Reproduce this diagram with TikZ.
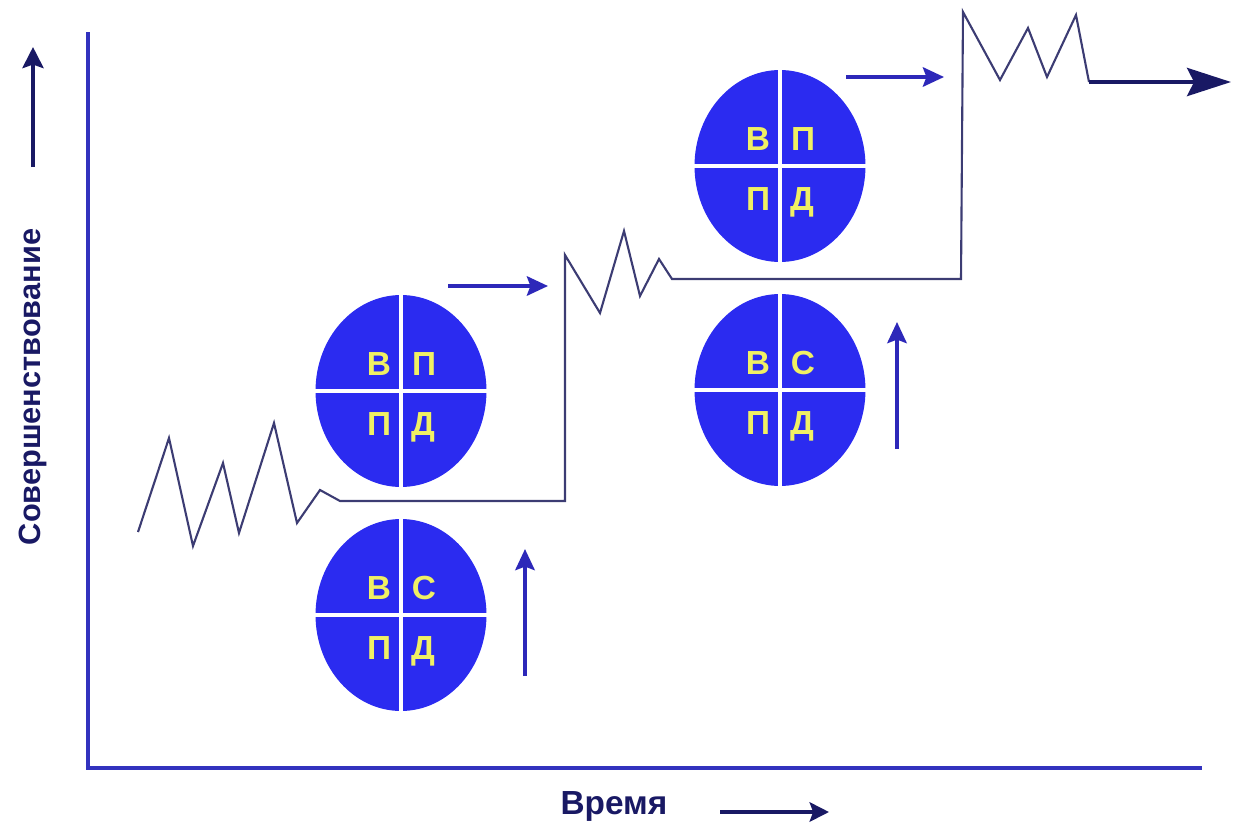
\documentclass[tikz,border=0pt]{standalone}
\usepackage{fontspec}
\setmainfont{Liberation Sans}
\usetikzlibrary{calc, positioning}
\usetikzlibrary{arrows.meta}
\usetikzlibrary{shapes.geometric}

\definecolor{achsblau}{RGB}{50,50,190}
\definecolor{zickblau}{RGB}{60,60,115}
\definecolor{pfeilblau}{RGB}{45,40,185}
\definecolor{dunkelblau}{RGB}{25,25,100}
\definecolor{kreisblau}{RGB}{43,43,240}
\definecolor{gelb}{RGB}{240,240,100}

\tikzset{
  achse/.style={line width=2pt, achsblau},
  zacke/.style={line width=1.2pt, zickblau, line join=miter},
  pfeil/.style={line width=2.2pt, pfeilblau, -{Stealth[length=12pt, width=11pt, inset=2pt]}},
  krug/.style={ellipse, fill=kreisblau, draw=none, inner sep=0pt,
    minimum width=3.42cm, minimum height=3.84cm},
  kreuz/.style={white, line width=2.8pt},
  bukva/.style={gelb, font=\fontsize{19}{19}\selectfont\bfseries, anchor=base, inner sep=0pt},
  beschr/.style={dunkelblau, font=\fontsize{17.5}{17.5}\selectfont\bfseries, inner sep=0pt}
}

\begin{document}
\begin{tikzpicture}[x=0.02cm, y=-0.02cm]
\useasboundingbox (0,0) rectangle (1244,832);

% axes
\coordinate (O) at (88,768);
\coordinate (Yend) at (88,32);
\coordinate (Xend) at (1202,768);
\draw[achse] (Yend) -- (O) -- (Xend);

% axis labels
\node[beschr, rotate=90] (ylabel) at (33,387) {Совершенствование};
\coordinate (ya1) at (33,167);
\coordinate (ya2) at (33,47);
\draw[line width=2.2pt, dunkelblau, -{Stealth[length=12pt, width=12pt, inset=2pt]}] (ya1) -- (ya2);

\node[beschr, font=\fontsize{19}{19}\selectfont\bfseries] (xlabel) at (614,806) {Время};
\coordinate (xa1) at (720,812);
\coordinate (xa2) at (829,812);
\draw[line width=2.2pt, dunkelblau, -{Stealth[length=11pt, width=11pt, inset=2pt]}] (xa1) -- (xa2);

% the four circles
\foreach \k/\cx/\cy/\tr in {ka/401/615/С, kb/401/391/П, kc/780/390/С, kd/780/166/П} {
  \node[krug] (\k) at (\cx,\cy) {};
  \draw[kreuz] (\k.north) -- (\k.south);
  \draw[kreuz] (\k.west) -- (\k.east);
  \node[bukva] (\k-1) at ($(\k)+(-22,-16)$) {В};
  \node[bukva] (\k-2) at ($(\k)+(23,-16)$) {\tr};
  \node[bukva] (\k-3) at ($(\k)+(-22,44)$) {П};
  \node[bukva] (\k-4) at ($(\k)+(22,44)$) {Д};
}

% stepped zigzag line
\coordinate (S1) at (565,501);
\coordinate (S2) at (961,279);
\coordinate (E) at (1089,82);
\draw[zacke] (138,532) -- (169,438) -- (193,546) -- (223,463) -- (239,533)
  -- (274,423) -- (297,523) -- (320,490) -- (340,501) -- (S1)
  -- (565,255) -- (600,313) -- (624,231) -- (640,296) -- (659,259)
  -- (672,279) -- (S2)
  -- (963,12) -- (1000,80) -- (1028,28) -- (1047,77) -- (1076,15) -- (E);
\coordinate (Eend) at (1231,82);
\draw[line width=2.4pt, dunkelblau, -{Stealth[length=25pt, width=16pt, inset=4pt]}] (E) -- (Eend);

% small arrows
\coordinate (u1a) at (525,676);
\coordinate (u1b) at (525,549);
\coordinate (u2a) at (897,449);
\coordinate (u2b) at (897,322);
\coordinate (r1a) at (448,286);
\coordinate (r1b) at (548,286);
\coordinate (r2a) at (846,77);
\coordinate (r2b) at (944,77);
\draw[pfeil] (u1a) -- (u1b);
\draw[pfeil] (u2a) -- (u2b);
\draw[pfeil] (r1a) -- (r1b);
\draw[pfeil] (r2a) -- (r2b);

\end{tikzpicture}
\end{document}
